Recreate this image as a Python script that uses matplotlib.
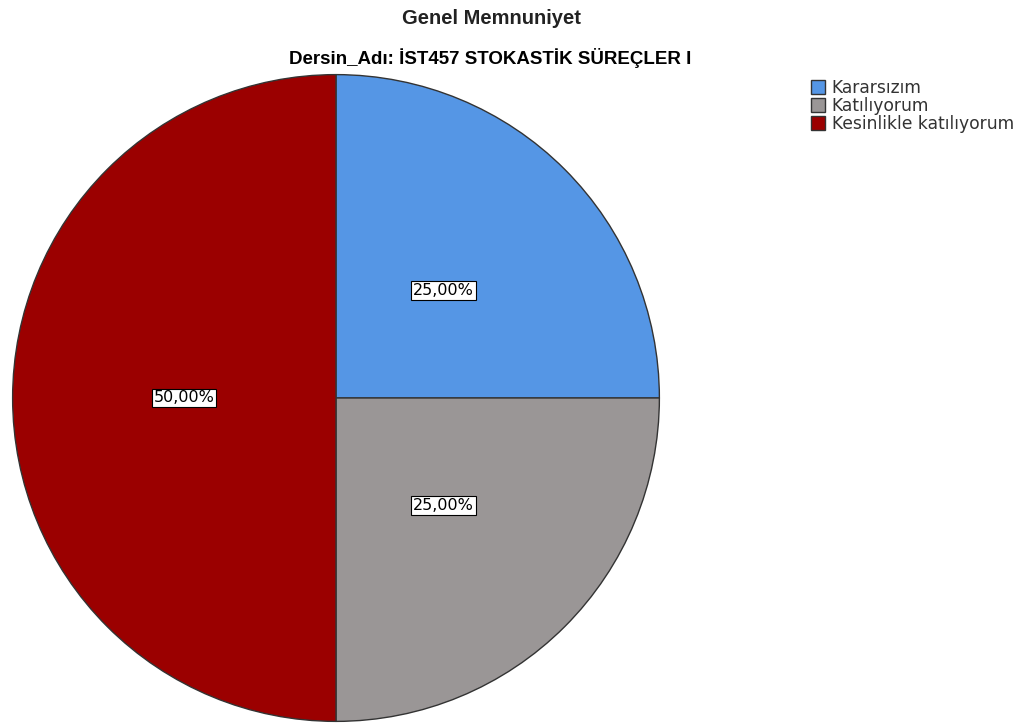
import matplotlib
matplotlib.use('Agg')
import matplotlib.pyplot as plt

# data
labels = ['Kararsızım', 'Katılıyorum', 'Kesinlikle katılıyorum']
values = [25.0, 25.0, 50.0]
colors = ['#5596e5', '#9a9696', '#9b0000']

title = 'Genel Memnuniyet'
subtitle = 'Dersin_Adı: İST457 STOKASTİK SÜREÇLER I'

plt.rcParams['font.family'] = ['Liberation Sans', 'DejaVu Sans']

fig = plt.figure(figsize=(10.24, 7.28), dpi=100)

# pie axes placed in pixel terms: centre ~ (336, 398), radius ~ 325
ax = fig.add_axes([11/1024, 5/728, 650/1024, 650/728])
wedges, texts, autotexts = ax.pie(
    values, colors=colors, startangle=90, counterclock=False,
    radius=1.0, autopct=lambda p: ('%.2f%%' % p).replace('.', ','),
    pctdistance=0.47,
    wedgeprops=dict(edgecolor='#333333', linewidth=1.0))
for t in autotexts:
    t.set_fontsize(11.5)
    t.set_family('DejaVu Sans')
    t.set_color('black')
    t.set_bbox(dict(facecolor='white', edgecolor='black', linewidth=0.8, pad=1.2))
ax.set_xlim(-1.005, 1.005)
ax.set_ylim(-1.005, 1.005)
ax.set_aspect('equal')

fig.text(491/1024, 1 - 18/728, title, ha='center', va='center',
         fontsize=14.5, fontweight='bold', color='#222222')
fig.text(490/1024, 1 - 58/728, subtitle, ha='center', va='center',
         fontsize=13.5, fontweight='bold', color='black')

leg = fig.legend(wedges, labels, loc='upper left', bbox_to_anchor=(811/1024, 1 - 79/728),
                 frameon=False, prop={'family': 'DejaVu Sans', 'size': 12.3},
                 handlelength=0.82, handleheight=0.82,
                 handletextpad=0.4, labelspacing=0.0, borderaxespad=0, borderpad=0)
for h in leg.legend_handles:
    h.set_edgecolor('#333333')
    h.set_linewidth(1.0)
for t in leg.get_texts():
    t.set_color('#333333')

fig.savefig('out.png', dpi=100)
